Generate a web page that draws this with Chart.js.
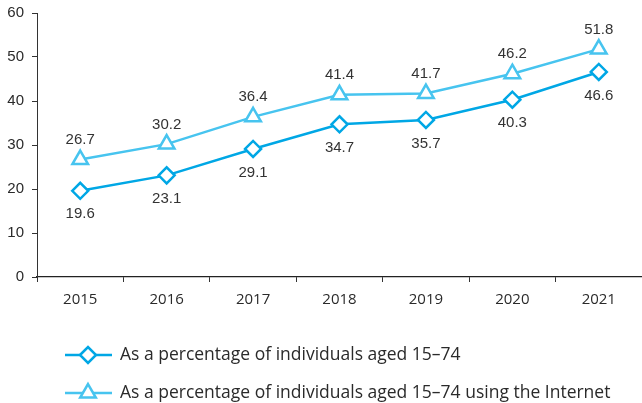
<!DOCTYPE html>
<html>
<head>
<meta charset="utf-8">
<script src="https://cdn.jsdelivr.net/npm/chart.js@4/dist/chart.umd.min.js"></script>
<style>
  html, body { margin: 0; padding: 0; background: #fff; }
  #wrap { width: 642px; height: 403px; position: relative; }
</style>
</head>
<body>
<div id="wrap"><canvas id="c" width="642" height="403"></canvas></div>
<script>
const years = ['2015', '2016', '2017', '2018', '2019', '2020', '2021'];
const shareAll = [19.6, 23.1, 29.1, 34.7, 35.7, 40.3, 46.6];
const shareInternet = [26.7, 30.2, 36.4, 41.4, 41.7, 46.2, 51.8];
const yTicks = [0, 10, 20, 30, 40, 50, 60];
const seriesNames = [
  'As a percentage of individuals aged 15\u201374',
  'As a percentage of individuals aged 15\u201374 using the Internet'
];

const NUMFONT = '"Liberation Sans", Arial, sans-serif';
const TEXTFONT = '"Open Sans", Lato, sans-serif';
const C1 = '#00a7e5';
const C2 = '#47c4ef';

// Value labels: first series below its points, second above
const valueLabels = {
  id: 'valueLabels',
  afterDatasetsDraw(chart) {
    const ctx = chart.ctx;
    ctx.save();
    ctx.font = '15px ' + NUMFONT;
    ctx.fillStyle = '#333';
    ctx.textAlign = 'center';
    chart.data.datasets.forEach((ds, i) => {
      const meta = chart.getDatasetMeta(i);
      meta.data.forEach((pt, j) => {
        const v = ds.data[j].toFixed(1);
        if (i === 0) {
          ctx.textBaseline = 'top';
          ctx.fillText(v, pt.x, pt.y + 16);
        } else {
          ctx.textBaseline = 'bottom';
          ctx.fillText(v, pt.x, pt.y - 12);
        }
      });
    });
    ctx.restore();
  }
};

// Legend below the axis: line sample with marker, then the series name
const lineLegend = {
  id: 'lineLegend',
  afterDraw(chart) {
    const ctx = chart.ctx;
    const rows = [355, 393];
    chart.data.datasets.forEach((ds, i) => {
      const y = rows[i];
      ctx.save();
      ctx.strokeStyle = ds.borderColor;
      ctx.lineWidth = 2.5;
      ctx.beginPath();
      ctx.moveTo(65, y);
      ctx.lineTo(112, y);
      ctx.stroke();
      ctx.fillStyle = '#fff';
      ctx.strokeStyle = ds.borderColor;
      ctx.lineWidth = ds.pointBorderWidth;
      Chart.helpers.drawPoint(ctx, {
        pointStyle: ds.pointStyle,
        radius: ds.pointRadius,
        borderWidth: ds.pointBorderWidth
      }, 88, y);
      ctx.fillStyle = '#2a2a2a';
      ctx.font = '17.5px ' + TEXTFONT;
      ctx.textAlign = 'left';
      ctx.textBaseline = 'middle';
      ctx.fillText(ds.label, 120, y);
      ctx.restore();
    });
  }
};

new Chart(document.getElementById('c'), {
  type: 'line',
  data: {
    labels: years,
    datasets: [
      {
        label: seriesNames[0],
        data: shareAll,
        borderColor: C1,
        backgroundColor: '#fff',
        borderWidth: 2.5,
        pointStyle: 'rectRot',
        pointRadius: 8,
        pointBorderWidth: 2.5,
        pointBackgroundColor: '#fff',
        pointBorderColor: C1,
        tension: 0
      },
      {
        label: seriesNames[1],
        data: shareInternet,
        borderColor: C2,
        backgroundColor: '#fff',
        borderWidth: 2.5,
        pointStyle: 'triangle',
        pointRadius: 9,
        pointBorderWidth: 2.5,
        pointBackgroundColor: '#fff',
        pointBorderColor: C2,
        tension: 0
      }
    ]
  },
  options: {
    responsive: false,
    animation: false,
    layout: { autoPadding: false, padding: { top: 13, right: 0, left: 0, bottom: 0 } },
    plugins: { legend: { display: false }, tooltip: { enabled: false } },
    scales: {
      x: {
        offset: true,
        grid: {
          offset: true,
          drawOnChartArea: false,
          drawTicks: true,
          tickLength: 5,
          color: '#333',
          lineWidth: 1
        },
        border: { display: true, color: '#222', width: 1.2 },
        ticks: {
          font: { family: TEXTFONT, size: 15 },
          color: '#2a2a2a',
          padding: 9
        },
        afterFit(scale) {
          scale.height = 126;
          scale.paddingLeft = 0;
          scale.paddingRight = 0;
        }
      },
      y: {
        min: 0,
        max: 60,
        afterBuildTicks(scale) { scale.ticks = yTicks.map(v => ({ value: v })); },
        grid: {
          drawOnChartArea: false,
          drawTicks: true,
          tickLength: 5,
          color: '#333'
        },
        border: { display: true, color: '#333', width: 1 },
        ticks: {
          font: { family: NUMFONT, size: 15 },
          color: '#2a2a2a',
          padding: 8
        },
        afterFit(scale) {
          scale.width = 37;
          scale.paddingTop = 0;
          scale.paddingBottom = 0;
        }
      }
    }
  },
  plugins: [valueLabels, lineLegend]
});
</script>
</body>
</html>
